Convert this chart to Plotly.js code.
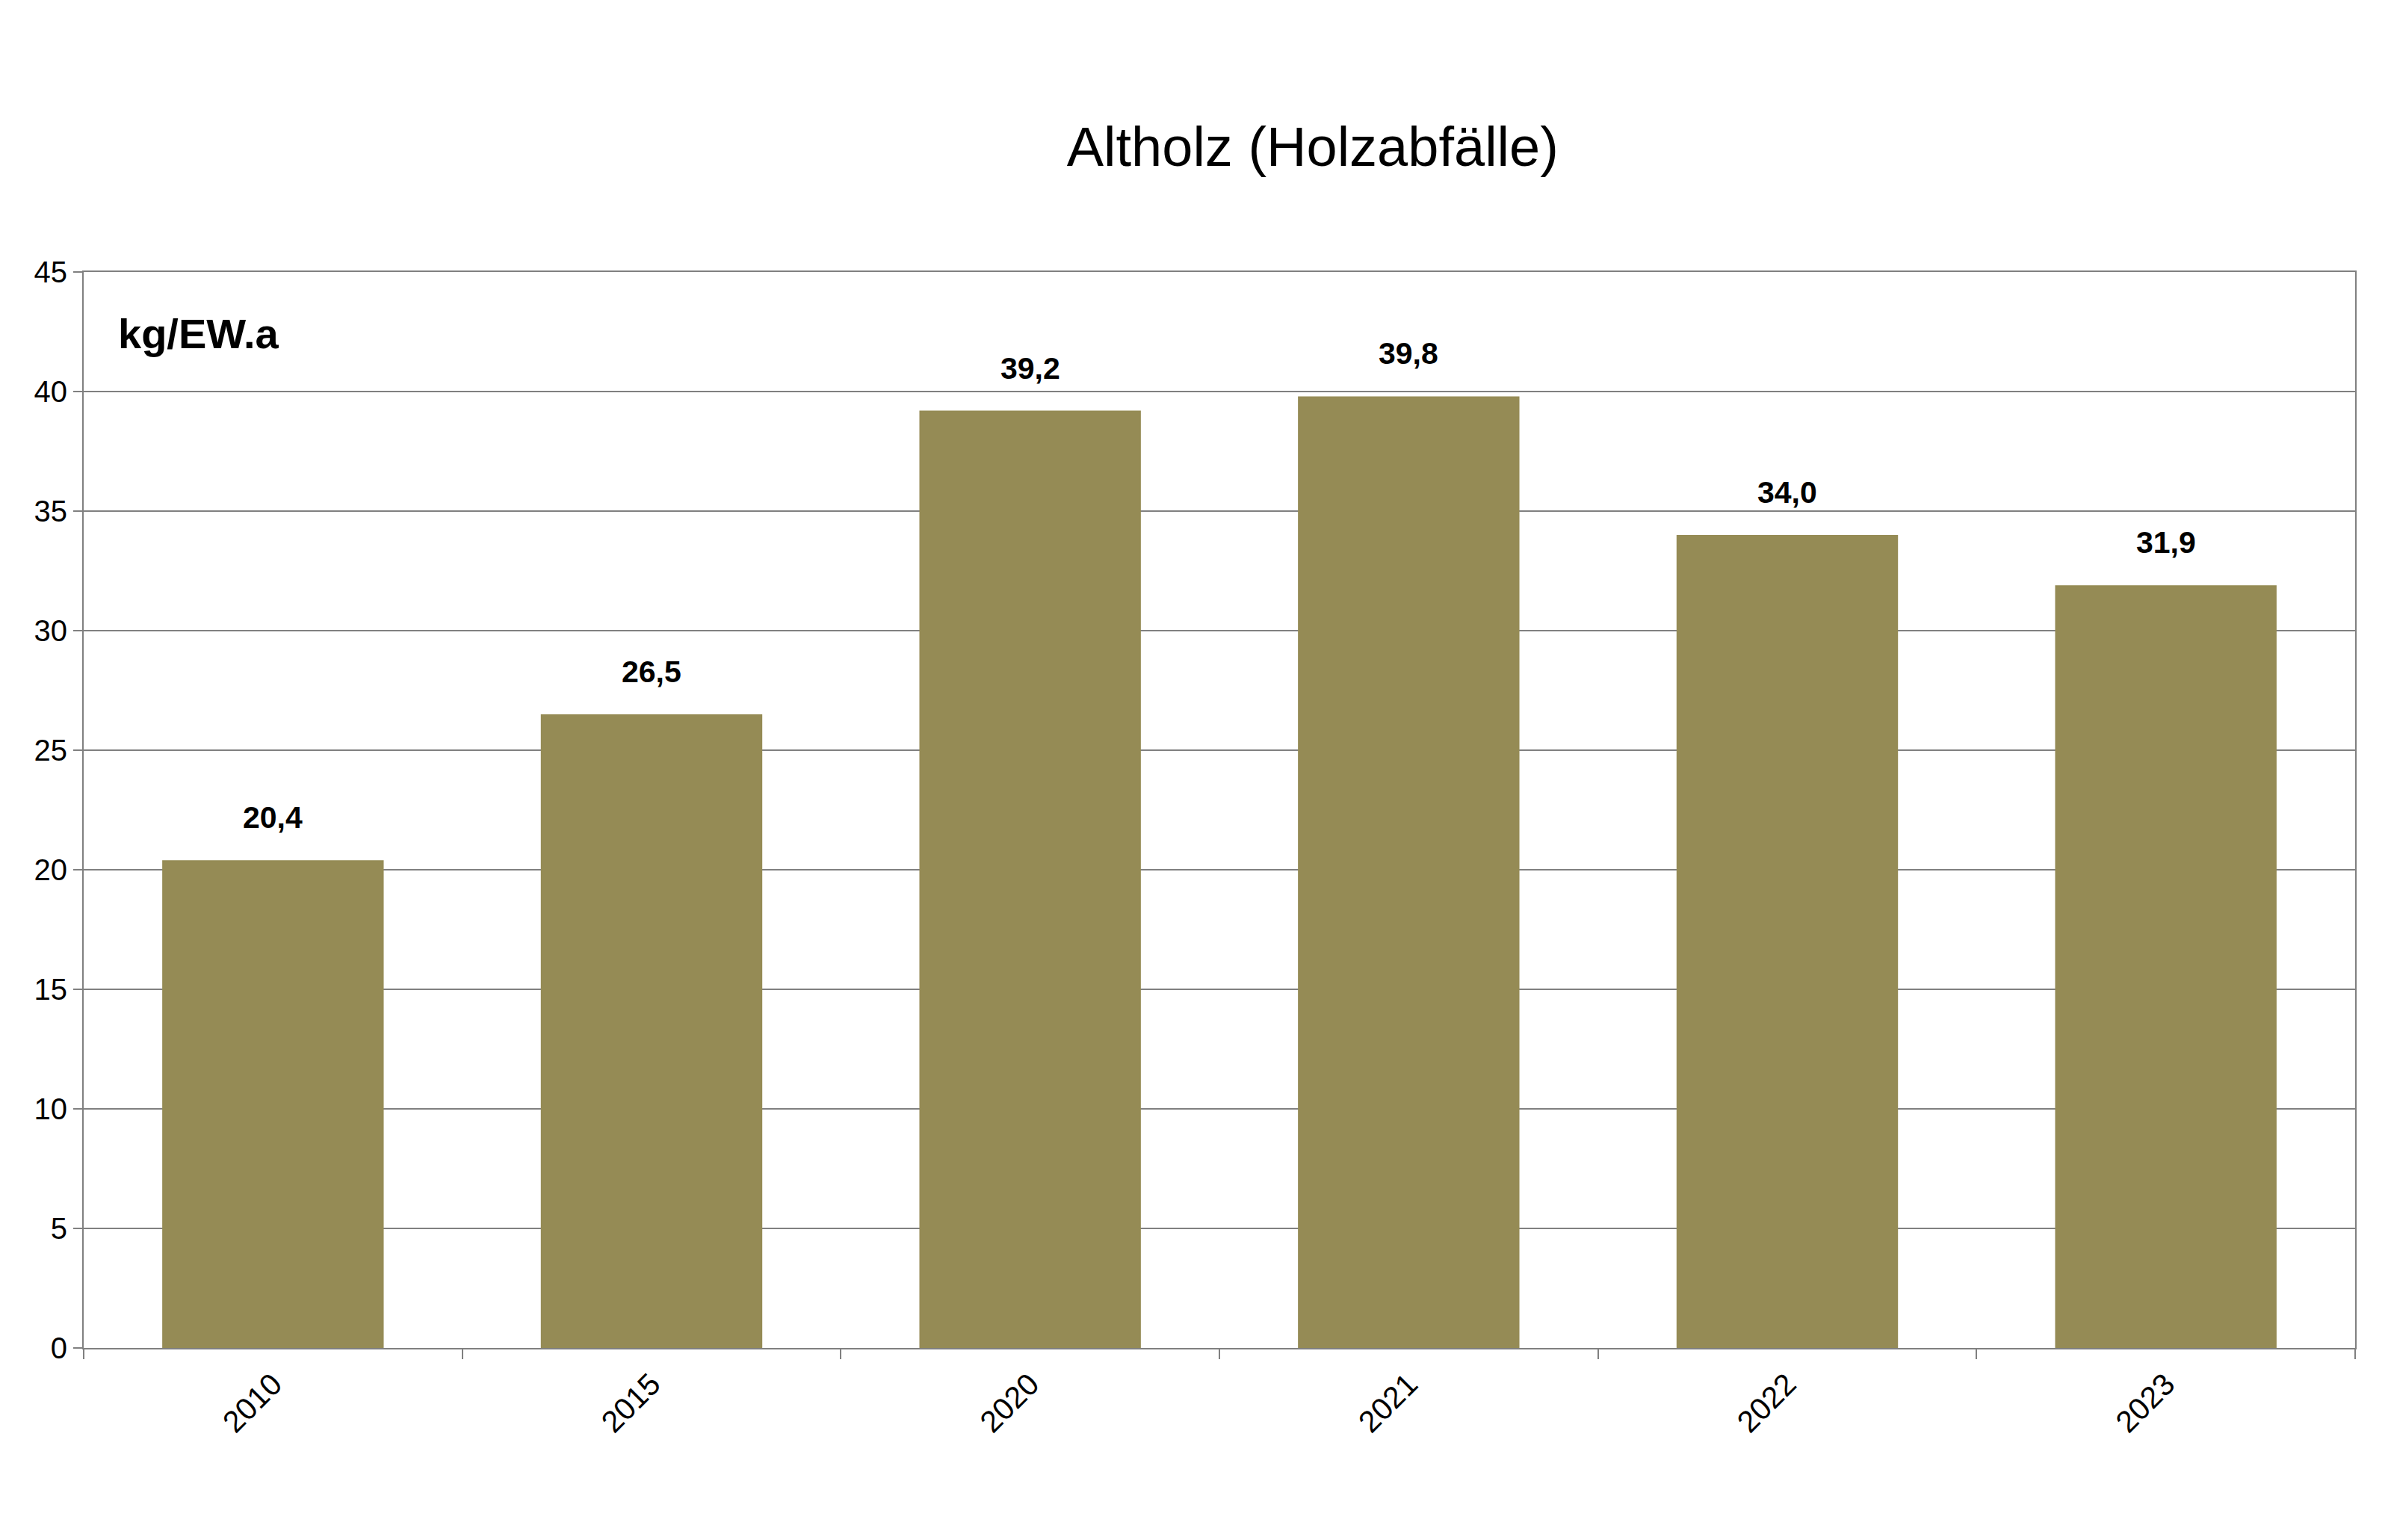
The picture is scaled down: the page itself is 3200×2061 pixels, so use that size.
<!DOCTYPE html>
<html>
<head>
<meta charset="utf-8">
<script src="https://cdn.plot.ly/plotly-3.0.1.min.js"></script>
<style>
  html, body { margin: 0; padding: 0; background: #fff; }
  #chart { width: 3200px; height: 2061px; }
</style>
</head>
<body>
<div id="chart"></div>
<script>
// Altholz (Holzabfälle), kg per Einwohner und Jahr
const years = ['2010', '2015', '2020', '2021', '2022', '2023'];
const amounts = [20.4, 26.5, 39.2, 39.8, 34.0, 31.9];
const yTicks = [0, 5, 10, 15, 20, 25, 30, 35, 40, 45];

const fontFamily = '"Liberation Sans", Arial, sans-serif';
const barColor = '#958b55';

// value labels above each bar, German decimal comma
// (x is the category index: a year string would be read as an index here)
const labels = years.map((yr, i) => ({
  x: i, y: amounts[i], xref: 'x', yref: 'y',
  text: amounts[i].toFixed(1).replace('.', ','),
  showarrow: false, yanchor: 'bottom', yshift: 32,
  font: {family: fontFamily, size: 41, color: '#000', weight: 'bold'}
}));

labels.push({
  x: 0.0145, y: 0.943, xref: 'paper', yref: 'paper',
  xanchor: 'left', yanchor: 'middle', showarrow: false,
  text: '<b>kg/EW.a</b>',
  font: {family: fontFamily, size: 56, color: '#000'}
});

Plotly.newPlot('chart', [{
  type: 'bar', x: years, y: amounts,
  marker: {color: barColor, line: {width: 0}},
  width: 0.585, hoverinfo: 'x+y'
}], {
  width: 3200, height: 2061,
  margin: {l: 112, r: 48, t: 364, b: 257},
  paper_bgcolor: '#fff', plot_bgcolor: '#fff',
  showlegend: false,
  font: {family: fontFamily, color: '#000'},
  title: {
    text: 'Altholz (Holzabfälle)',
    x: 0.549, xanchor: 'center', y: 0.905, yanchor: 'middle',
    font: {family: fontFamily, size: 74, color: '#000'}
  },
  xaxis: {
    type: 'category',
    showline: true, mirror: true, linecolor: '#808080', linewidth: 2,
    ticks: 'outside', tickson: 'boundaries', ticklen: 13, tickwidth: 2, tickcolor: '#808080',
    tickangle: -45, ticklabelstandoff: 6,
    tickfont: {family: fontFamily, size: 41, color: '#000'},
    showgrid: false
  },
  yaxis: {
    range: [0, 45], tickvals: yTicks, ticktext: yTicks.map(String),
    showline: true, mirror: true, linecolor: '#808080', linewidth: 2,
    ticks: 'outside', ticklen: 12, tickwidth: 2, tickcolor: '#808080',
    tickfont: {family: fontFamily, size: 40, color: '#000'},
    showgrid: true, gridcolor: '#808080', gridwidth: 2,
    zeroline: false, fixedrange: true
  },
  annotations: labels
}, {displayModeBar: false, staticPlot: true});
</script>
</body>
</html>
